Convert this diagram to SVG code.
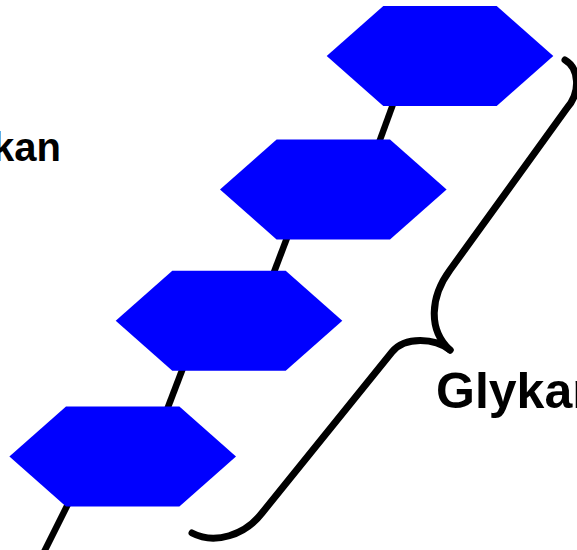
<svg xmlns="http://www.w3.org/2000/svg" width="577" height="550" viewBox="0 0 577 550">
  <style>
    .bond { stroke: #000; stroke-width: 6.5; fill: none; stroke-linecap: butt; }
    .brace { stroke: #000; stroke-width: 7; fill: none; stroke-linecap: round; stroke-linejoin: round; }
    .hex { fill: #0000ff; stroke: none; }
    .label { font-family: "Liberation Sans", Arial, sans-serif; font-weight: bold; fill: #000; }
  </style>
  <defs>
    <polygon id="hexShape" points="-113.3,0 -56.7,-50 56.7,-50 113.3,0 56.7,50 -56.7,50"/>
  </defs>
  <rect width="577" height="550" fill="#fff"/>
  <g id="connectors">
    <line class="bond" x1="396" y1="96" x2="377" y2="148"/>
    <line class="bond" x1="290" y1="230" x2="271" y2="280"/>
    <line class="bond" x1="186" y1="360" x2="165" y2="415"/>
    <line class="bond" x1="72" y1="496" x2="40" y2="560"/>
  </g>
  <g id="hex1"><use href="#hexShape" class="hex" x="440" y="56"/></g>
  <g id="hex2"><use href="#hexShape" class="hex" x="333.3" y="189.5"/></g>
  <g id="hex3"><use href="#hexShape" class="hex" x="229" y="320.7"/></g>
  <g id="hex4"><use href="#hexShape" class="hex" x="122.7" y="456.4"/></g>
  <g id="brace">
    <path class="brace" d="M565,60 C579,68 581,92 567,108 L450,270 C430,297 428,330 450,350"/>
    <path class="brace" d="M450,350 C435,338 405,336 392,352 L262,513 C245,535 215,545 192,533"/>
  </g>
  <g id="labels">
    <text class="label" x="61" y="161" font-size="40" text-anchor="end">kan</text>
    <text class="label" x="436" y="408" font-size="50">Glykan</text>
  </g>
</svg>
